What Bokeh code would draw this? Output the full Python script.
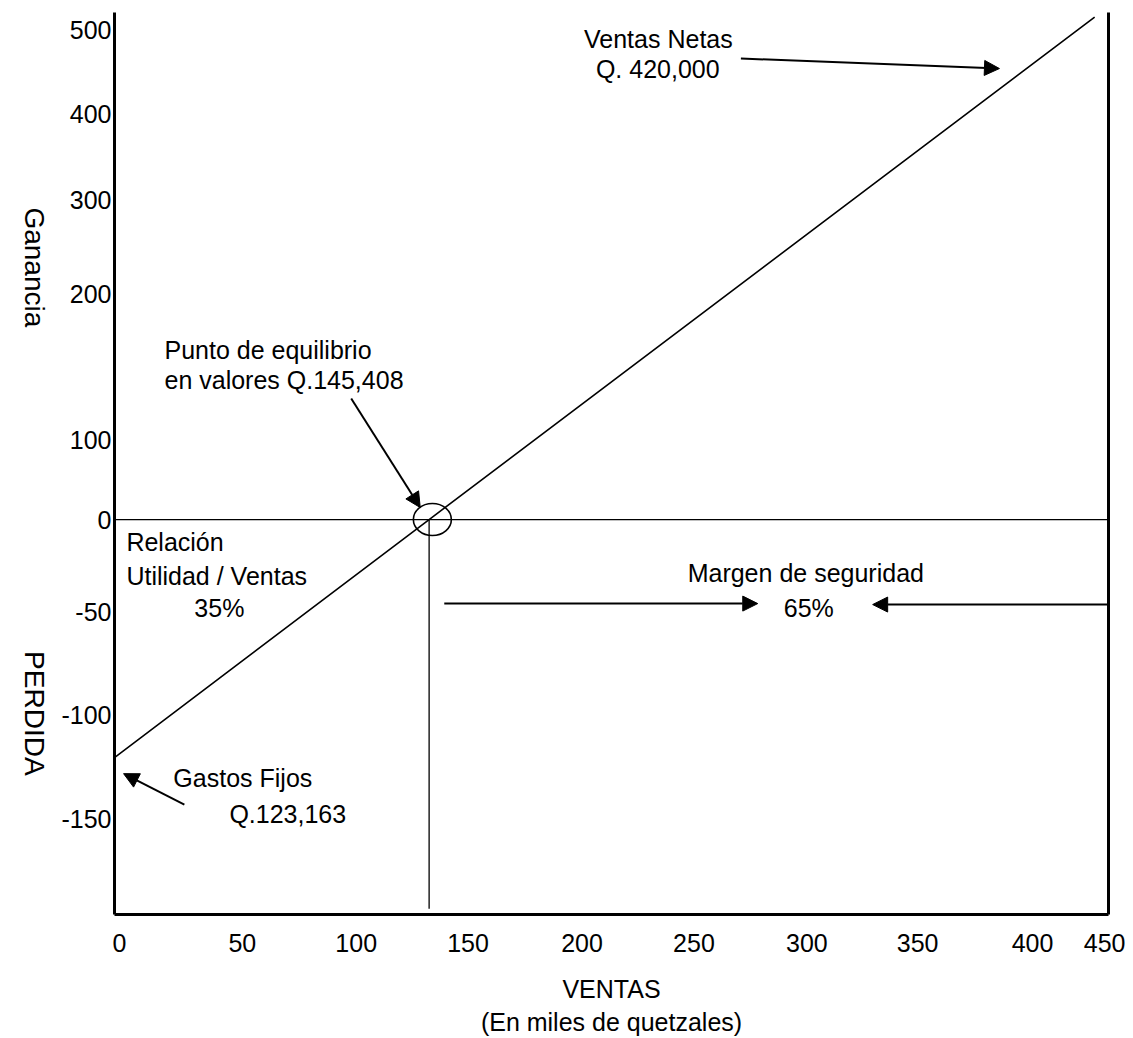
import math
from bokeh.plotting import figure
from bokeh.models import (Range1d, FixedTicker, LinearAxis, Arrow, NormalHead,
                          Label, Span, Title)
from bokeh.embed import file_html
from bokeh.resources import INLINE

# ---- data (miles de quetzales) ----
fixed_costs = 123.163          # Gastos Fijos Q.123,163
break_even = 145.408           # Punto de equilibrio Q.145,408
net_sales = 420.0              # Ventas Netas Q.420,000
pv_ratio_text = "35%"
safety_margin_text = "65%"

# profit line: (ventas, ganancia)
line_sales = [0.0, 145.408, 453.0]
line_profit = [-123.163, 0.0, 260.0]

# tick labels and where the (not-to-scale) original draws them, in chart units
x_tick_labels = ["0", "50", "100", "150", "200", "250", "300", "350", "400", "450"]
x_tick_at = [2.3, 59.1, 111.7, 163.4, 216.1, 267.8, 320.0, 371.2, 424.3, 458.5]
y_tick_labels = ["500", "400", "300", "200", "100", "0", "-50", "-100", "-150"]
y_tick_at = [253.1, 210.1, 165.6, 116.5, 41.0, 0.0, -48.1, -101.4, -154.8]

# side captions of the vertical axis and where they end
side_captions = ["Ganancia", "PERDIDA"]
side_caption_at = [99.5, -132.5]

X_END = 459.4
Y_START, Y_END = -204.4, 262.4

FONT = "Liberation Sans"
FS = "25px"

p = figure(width=1125, height=1038, x_range=Range1d(0, X_END),
           y_range=Range1d(Y_START, Y_END), output_backend="svg",
           toolbar_location=None, min_border_left=113, min_border_right=17,
           min_border_top=12, min_border_bottom=124)
p.outline_line_color = None
p.xgrid.visible = False
p.ygrid.visible = False
p.background_fill_color = "white"
p.border_fill_color = "white"

# axes
for ax, ticks, labels in ((p.xaxis[0], x_tick_at, x_tick_labels),
                          (p.yaxis[0], y_tick_at, y_tick_labels)):
    ax.ticker = FixedTicker(ticks=ticks)
    ax.major_label_overrides = {t: l for t, l in zip(ticks, labels)}
    ax.axis_line_width = 3
    ax.axis_line_color = "black"
    ax.major_tick_line_color = None
    ax.minor_tick_line_color = None
    ax.major_tick_out = 0
    ax.major_tick_in = 0
    ax.major_label_text_font = FONT
    ax.major_label_text_font_size = FS
    ax.major_label_text_color = "black"
p.xaxis[0].major_label_standoff = 19
p.yaxis[0].major_label_standoff = 3

p.xaxis[0].axis_label = "VENTAS"
p.xaxis[0].axis_label_text_font = FONT
p.xaxis[0].axis_label_text_font_size = FS
p.xaxis[0].axis_label_text_font_style = "normal"
p.xaxis[0].axis_label_text_color = "black"
p.xaxis[0].axis_label_standoff = 20

p.add_layout(Title(text="(En miles de quetzales)", align="center", text_font=FONT,
                   text_font_size=FS, text_font_style="normal", text_color="black",
                   standoff=0), "below")

# side captions "Ganancia" / "PERDIDA" (outer left axis, no line)
cap_ax = LinearAxis(ticker=FixedTicker(ticks=side_caption_at),
                    major_label_overrides={t: l for t, l in zip(side_caption_at, side_captions)},
                    major_label_orientation=-math.pi / 2,
                    axis_line_color=None, major_tick_line_color=None,
                    minor_tick_line_color=None, major_tick_out=0, major_tick_in=0,
                    major_label_standoff=24, major_label_text_font=FONT,
                    major_label_text_font_size="28px", major_label_text_color="black")
p.add_layout(cap_ax, "left")

right_ax = LinearAxis(ticker=FixedTicker(ticks=[]), axis_line_width=3,
                      axis_line_color="black", major_tick_line_color=None,
                      minor_tick_line_color=None, major_label_text_font_size="0px")
p.add_layout(right_ax, "right")

# zero line
p.add_layout(Span(location=0, dimension="width", line_color="black", line_width=1.3))

# sales / profit line
p.line(line_sales, line_profit, line_color="black", line_width=1.6)

# break-even vertical line and circle
p.segment(x0=[break_even], y0=[0], x1=[break_even], y1=[Y_START + 3],
          line_color="black", line_width=1.3)
p.ellipse(x=[break_even + 1.5], y=[0], width=38, height=32,
          width_units="screen", height_units="screen",
          fill_color=None, line_color="black", line_width=1.6)

def arrow(x0, y0, x1, y1):
    p.add_layout(Arrow(end=NormalHead(size=15, fill_color="black", line_color="black"),
                       x_start=x0, y_start=y0, x_end=x1, y_end=y1,
                       line_color="black", line_width=2))

arrow(109.4, 62.6, break_even - 4.1, 6.2)          # to break-even point
arrow(289.5, 238.6, net_sales - 11.0, 233.4)       # to net sales
arrow(break_even + 7.0, -43.5, 297.3, -43.5)       # margin (left)
arrow(X_END, -44.0, 350.4, -44.0)                  # margin (right)
arrow(32.3, -147.5, 4.2, -131.5)                   # to fixed costs

def label(x, y, text, align="left"):
    p.add_layout(Label(x=x, y=y, text=text, text_font=FONT, text_font_size=FS,
                       text_color="black", text_align=align, text_baseline="alphabetic"))

label(217.0, 248.9, "Ventas Netas")
label(222.5, 233.4, "Q. 420,000")
label(23.1, 87.5, "Punto de equilibrio")
label(23.1, 72.0, "en valores Q.145,408")
label(5.5, -11.5, "Relación")
label(5.5, -29.0, "Utilidad / Ventas")
label(36.9, -46.0, pv_ratio_text)
label(319.5, -27.5, "Margen de seguridad", align="center")
label(320.9, -46.0, safety_margin_text, align="center")
label(27.2, -134.0, "Gastos Fijos")
label(53.1, -152.5, "Q.123,163")

open("out.html", "w").write(file_html(p, INLINE))
